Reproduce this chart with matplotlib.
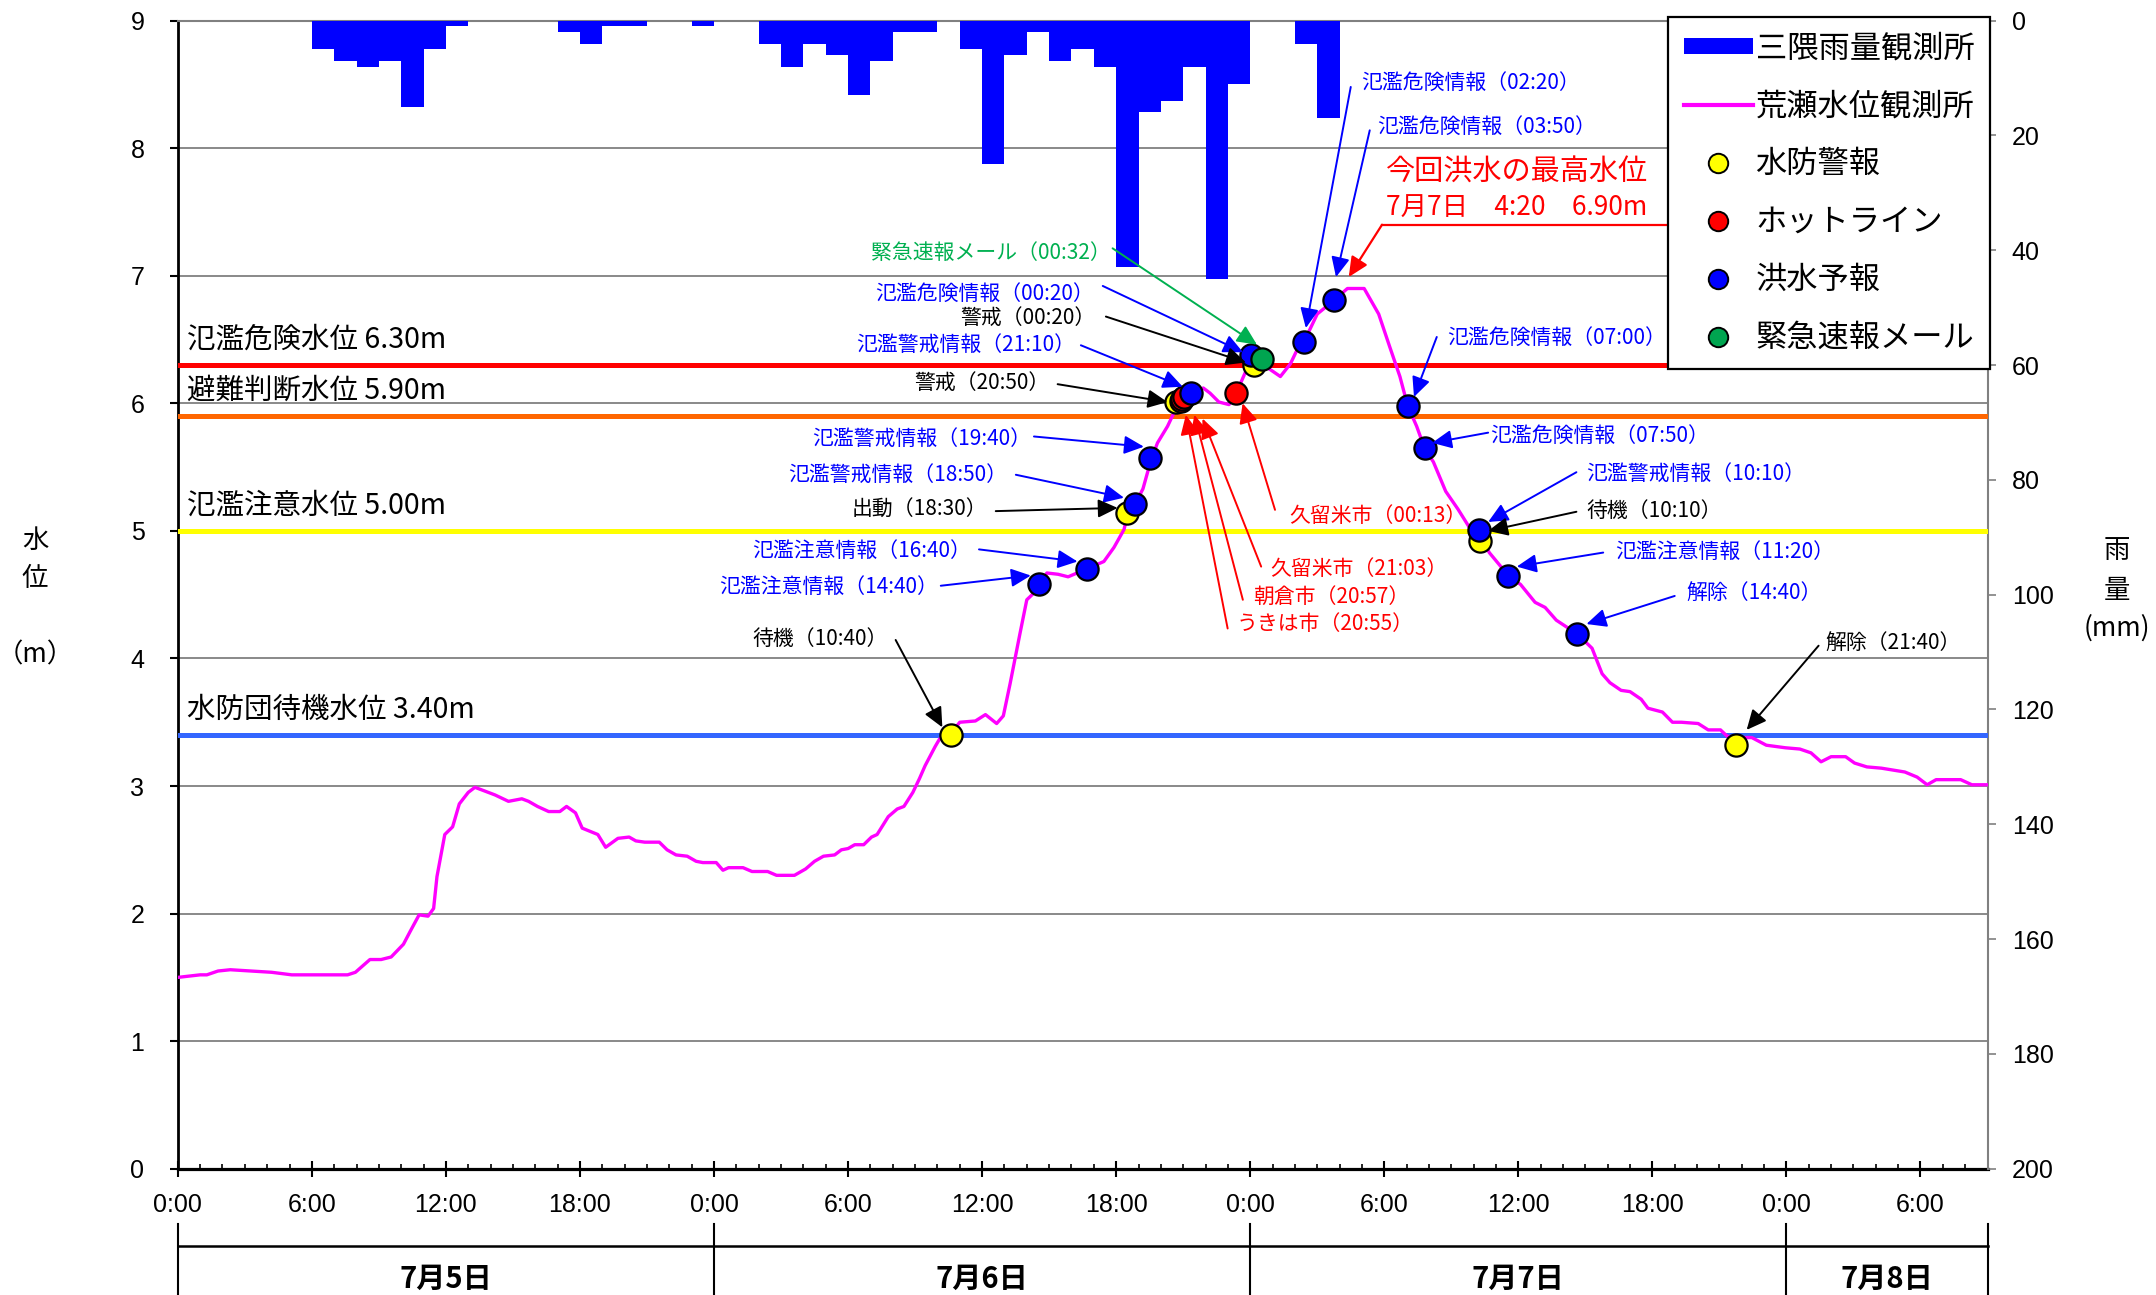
import matplotlib
matplotlib.use('Agg')
import matplotlib.pyplot as plt
import matplotlib.transforms as mtransforms
from matplotlib.lines import Line2D
from matplotlib.patches import Patch
from matplotlib.ticker import MultipleLocator

plt.rcParams['font.family'] = ['Noto Sans CJK JP', 'DejaVu Sans']
NUM_FONT = ['Liberation Sans', 'DejaVu Sans']

# ---------------- data ----------------
rain_hours = [6, 7, 8, 9, 10, 11, 12, 17, 18, 19, 20, 23, 26, 27, 28, 29, 30, 31, 32, 33,
              35, 36, 37, 38, 39, 40, 41, 42, 43, 44, 45, 46, 47, 50, 51]
rain_mm = [5, 7, 8, 7, 15, 5, 1, 2, 4, 1, 1, 1, 4, 8, 4, 6, 13, 7, 2, 2,
           5, 25, 6, 2, 7, 5, 8, 43, 16, 14, 8, 45, 11, 4, 17]

level_hours = [0.0, 0.5, 1.0, 1.3, 1.8, 2.35, 3.3, 4.2, 5.1, 7.6, 7.95, 8.6, 9.1, 9.55, 10.1,
               10.4, 10.8, 11.2, 11.45, 11.6, 11.95, 12.3, 12.6, 13.0, 13.3, 14.2, 14.8, 15.4,
               15.7, 16.1, 16.6, 17.1, 17.4, 17.8, 18.1, 18.8, 19.15, 19.7, 20.2, 20.5, 20.9,
               21.55, 21.9, 22.3, 22.8, 23.2, 23.5, 24.1, 24.4, 24.65, 25.3, 25.7, 26.4, 26.8,
               27.6, 28.1, 28.5, 28.9, 29.4, 29.7, 30.0, 30.3, 30.7, 31.05, 31.3, 31.8, 32.2,
               32.5, 32.9, 33.2, 33.45, 33.9, 34.1, 34.55, 35.0, 35.7, 36.15, 36.65, 36.95,
               37.25, 37.7, 38.0, 38.3, 38.55, 38.9, 39.4, 39.85, 40.65, 41.45, 41.9, 42.35,
               42.5, 42.85, 43.2, 43.55, 43.85, 44.3, 44.65, 44.85, 45.35, 45.9, 46.2, 46.6,
               47.05, 47.35, 47.6, 47.8, 48.15, 48.5, 48.85, 49.35, 49.8, 50.1, 50.4, 51.0,
               51.7, 52.35, 53.1, 53.75, 54.25, 54.7, 55.05, 55.45, 55.8, 56.2, 56.75, 57.3,
               57.8, 58.2, 58.7, 59.55, 60.1, 60.75, 61.2, 61.7, 62.65, 63.3, 63.75, 64.1,
               64.6, 65.0, 65.5, 65.8, 66.45, 66.9, 67.3, 68.05, 68.5, 69.05, 69.35, 70.0,
               70.45, 71.1, 71.95, 72.6, 73.1, 73.55, 74.0, 74.65, 75.05, 75.6, 76.25, 77.3,
               77.85, 78.3, 78.7, 79.8, 80.3, 81.0]
level_m = [1.50, 1.51, 1.52, 1.52, 1.55, 1.56, 1.55, 1.54, 1.52, 1.52, 1.54, 1.64, 1.64, 1.66, 1.76,
           1.86, 1.99, 1.98, 2.04, 2.29, 2.62, 2.68, 2.86, 2.95, 2.99, 2.93, 2.88, 2.90,
           2.88, 2.84, 2.80, 2.80, 2.84, 2.79, 2.67, 2.62, 2.52, 2.59, 2.60, 2.57, 2.56,
           2.56, 2.50, 2.46, 2.45, 2.41, 2.40, 2.40, 2.34, 2.36, 2.36, 2.33, 2.33, 2.30,
           2.30, 2.35, 2.41, 2.45, 2.46, 2.50, 2.51, 2.54, 2.54, 2.60, 2.62, 2.76, 2.82,
           2.84, 2.95, 3.06, 3.16, 3.31, 3.37, 3.40, 3.50, 3.51, 3.56, 3.49, 3.55,
           3.80, 4.20, 4.46, 4.51, 4.58, 4.67, 4.66, 4.64, 4.70, 4.76, 4.87, 5.01,
           5.12, 5.21, 5.33, 5.55, 5.69, 5.82, 5.95, 6.02, 6.08, 6.12, 6.08, 6.01,
           5.99, 6.06, 6.17, 6.25, 6.30, 6.33, 6.27, 6.21, 6.31, 6.42, 6.48, 6.70,
           6.80, 6.90, 6.90, 6.70, 6.44, 6.21, 5.98, 5.82, 5.65, 5.54, 5.31, 5.17,
           5.03, 5.00, 4.83, 4.65, 4.58, 4.44, 4.40, 4.30, 4.19, 4.08, 3.88, 3.81,
           3.75, 3.74, 3.68, 3.61, 3.58, 3.50, 3.50, 3.49, 3.44, 3.44, 3.39, 3.38,
           3.38, 3.32, 3.30, 3.29, 3.26, 3.19, 3.23, 3.23, 3.18, 3.15, 3.14, 3.11,
           3.07, 3.01, 3.05, 3.05, 3.01, 3.01]

threshold_labels = ['氾濫危険水位 6.30m', '避難判断水位 5.90m', '氾濫注意水位 5.00m', '水防団待機水位 3.40m']
threshold_values = [6.30, 5.90, 5.00, 3.40]

warn_hours = [34.6, 42.48, 44.7, 48.19, 58.27, 69.73]          # 水防警報
warn_levels = [3.40, 5.14, 6.01, 6.30, 4.92, 3.32]
hotline_hours = [44.88, 44.95, 45.05, 47.37]                    # ホットライン
hotline_levels = [6.02, 6.03, 6.05, 6.08]
forecast_hours = [38.53, 40.68, 42.84, 43.53, 45.35, 48.03, 50.4, 51.74, 55.04, 55.83,
                  58.22, 59.56, 62.64]                           # 洪水予報
forecast_levels = [4.58, 4.70, 5.21, 5.57, 6.08, 6.38, 6.48, 6.81, 5.98, 5.65, 5.01, 4.65, 4.19]
mail_hours = [48.52]                                             # 緊急速報メール
mail_levels = [6.35]

tick_hours = list(range(0, 79, 6))
tick_labels = ['0:00', '6:00', '12:00', '18:00'] * 3 + ['0:00', '6:00']
date_labels = ['7月5日', '7月6日', '7月7日', '7月8日']
date_bounds = [0, 24, 48, 72, 81]

peak_text = ['今回洪水の最高水位', '7月7日　4:20　6.90m']

# ---------------- styles ----------------
BLUE = '#0000FF'
RED = '#FF0000'
GREEN = '#00B050'
MAGENTA = '#FF00FF'
threshold_colors = ['#FF0000', '#FF6600', '#FFFF00', '#3366FF']

# annotation layout: text, color, text x, text y, ha, arrow start, arrow tip
annotations = [
    ('緊急速報メール（00:32）', GREEN, 41.74, 7.175, 'right', (41.84, 7.215), (48.3, 6.46)),
    ('氾濫危険情報（00:20）', BLUE, 41.0, 6.86, 'right', (41.4, 6.92), (47.68, 6.40)),
    ('警戒（00:20）', 'black', 41.1, 6.67, 'right', (41.54, 6.68), (47.81, 6.32)),
    ('氾濫警戒情報（21:10）', BLUE, 40.15, 6.455, 'right', (40.42, 6.455), (44.98, 6.13)),
    ('警戒（20:50）', 'black', 39.0, 6.16, 'right', (39.38, 6.15), (44.3, 6.01)),
    ('氾濫警戒情報（19:40）', BLUE, 38.18, 5.72, 'right', (38.32, 5.74), (43.24, 5.66)),
    ('氾濫警戒情報（18:50）', BLUE, 37.14, 5.44, 'right', (37.51, 5.44), (42.35, 5.26)),
    ('出動（18:30）', 'black', 36.24, 5.17, 'right', (36.61, 5.155), (42.07, 5.18)),
    ('氾濫注意情報（16:40）', BLUE, 35.52, 4.84, 'right', (35.86, 4.855), (40.27, 4.76)),
    ('氾濫注意情報（14:40）', BLUE, 34.01, 4.56, 'right', (34.15, 4.57), (38.18, 4.65)),
    ('待機（10:40）', 'black', 31.77, 4.15, 'right', (32.13, 4.145), (34.22, 3.46)),
    ('久留米市（00:13）', RED, 49.74, 5.12, 'left', (49.11, 5.165), (47.66, 6.00)),
    ('久留米市（21:03）', RED, 48.89, 4.70, 'left', (48.49, 4.72), (45.87, 5.88)),
    ('朝倉市（20:57）', RED, 48.13, 4.48, 'left', (47.67, 4.46), (45.5, 5.91)),
    ('うきは市（20:55）', RED, 47.41, 4.27, 'left', (46.99, 4.235), (45.12, 5.91)),
    ('氾濫危険情報（02:20）', BLUE, 52.97, 8.51, 'left', (52.5, 8.48), (50.49, 6.59)),
    ('氾濫危険情報（03:50）', BLUE, 53.68, 8.17, 'left', (53.35, 8.14), (51.84, 6.99)),
    ('氾濫危険情報（07:00）', BLUE, 56.82, 6.51, 'left', (56.35, 6.52), (55.33, 6.05)),
    ('氾濫危険情報（07:50）', BLUE, 58.75, 5.745, 'left', (58.65, 5.77), (56.14, 5.69)),
    ('氾濫警戒情報（10:10）', BLUE, 63.04, 5.445, 'left', (62.6, 5.46), (58.65, 5.07)),
    ('待機（10:10）', 'black', 63.04, 5.155, 'left', (62.6, 5.15), (58.65, 5.0)),
    ('氾濫注意情報（11:20）', BLUE, 64.33, 4.835, 'left', (63.8, 4.83), (59.93, 4.72)),
    ('解除（14:40）', BLUE, 67.53, 4.51, 'left', (67.0, 4.49), (63.05, 4.27)),
    ('解除（21:40）', 'black', 73.76, 4.12, 'left', (73.44, 4.10), (70.22, 3.44)),
]

W, H = 2156, 1295
fig = plt.figure(figsize=(W / 100, H / 100), dpi=100)
L, R, T, B = 177.8, 1987.5, 20.6, 1168.75
ax = fig.add_axes([L / W, 1 - B / H, (R - L) / W, (B - T) / H])

# main axis
ax.set_xlim(0, 81)
ax.set_ylim(0, 9)
ax.set_yticks(range(0, 10))
ax.yaxis.grid(True, color='#808080', lw=1.3)
ax.set_axisbelow(True)
ax.set_xticks(tick_hours)
ax.set_xticklabels(tick_labels)
ax.xaxis.set_minor_locator(MultipleLocator(1))
ax.tick_params(axis='x', which='major', direction='inout', length=12, width=1.5, pad=11.5, labelsize=18)
ax.tick_params(axis='x', which='minor', direction='in', length=3.5, width=1.2)
ax.tick_params(axis='y', direction='out', length=6, width=1.5, pad=18, labelsize=18)
for lab in ax.get_xticklabels() + ax.get_yticklabels():
    lab.set_family(NUM_FONT)
ax.spines['left'].set_linewidth(2)
ax.spines['bottom'].set_linewidth(2.3)
ax.spines['top'].set_color('#808080')
ax.spines['top'].set_linewidth(1.5)
ax.spines['right'].set_visible(False)

# rain axis
axr = ax.twinx()
axr.bar([h + 0.5 for h in rain_hours], rain_mm, width=1.0, color=BLUE, edgecolor='none', zorder=2)
axr.set_ylim(200, 0)
axr.set_yticks(range(0, 201, 20))
axr.tick_params(axis='y', direction='out', length=6, width=1.2, color='#808080', pad=11.5, labelsize=18)
for lab in axr.get_yticklabels():
    lab.set_family(NUM_FONT)
for s in ['left', 'bottom', 'top']:
    axr.spines[s].set_visible(False)
axr.spines['right'].set_color('#808080')
axr.spines['right'].set_linewidth(1.5)

# overlay axis for level data
axo = ax.twinx()
axo.set_ylim(0, 9)
axo.yaxis.set_visible(False)
for s in axo.spines.values():
    s.set_visible(False)

for lab, val, col in zip(threshold_labels, threshold_values, threshold_colors):
    axo.axhline(val, color=col, lw=3.6, zorder=2)
    axo.text(0.4, val + 0.08, lab, fontsize=20.5, color='black', ha='left', va='bottom', zorder=4)

axo.plot(level_hours, level_m, color=MAGENTA, lw=2.4, zorder=3, solid_joinstyle='round')

mk = dict(ls='none', marker='o', ms=16, mec='black', mew=1.6, zorder=6)
axo.plot(warn_hours, warn_levels, mfc='#FFFF00', **mk)
axo.plot(hotline_hours, hotline_levels, mfc=RED, **mk)
axo.plot(forecast_hours, forecast_levels, mfc=BLUE, **mk)
axo.plot(mail_hours, mail_levels, mfc='#00A550', **mk)

for text, col, tx, ty, ha, start, tip in annotations:
    axo.text(tx, ty, text, color=col, fontsize=15, ha=ha, va='center', zorder=7)
    axo.annotate('', xy=tip, xytext=start,
                 arrowprops=dict(arrowstyle='-|>,head_length=0.6,head_width=0.28', color=col,
                                 lw=1.4, shrinkA=0, shrinkB=0, mutation_scale=20), zorder=7)

# peak callout
axo.text(54.07, 7.81, peak_text[0], color=RED, fontsize=21, ha='left', va='center', zorder=7)
axo.text(54.07, 7.53, peak_text[1], color=RED, fontsize=19, ha='left', va='center', zorder=7)
axo.plot([53.9, 68.0], [7.40, 7.40], color=RED, lw=1.6, zorder=7)
axo.annotate('', xy=(52.41, 6.99), xytext=(53.9, 7.40),
             arrowprops=dict(arrowstyle='-|>,head_length=0.6,head_width=0.28', color=RED,
                             lw=1.6, shrinkA=0, shrinkB=0, mutation_scale=20), zorder=7)

# legend
handles = [
    Patch(facecolor=BLUE, edgecolor='none', label='三隈雨量観測所'),
    Line2D([], [], color=MAGENTA, lw=3, label='荒瀬水位観測所'),
    Line2D([], [], ls='none', marker='o', ms=14, mfc='#FFFF00', mec='black', mew=1.4, label='水防警報'),
    Line2D([], [], ls='none', marker='o', ms=14, mfc=RED, mec='black', mew=1.4, label='ホットライン'),
    Line2D([], [], ls='none', marker='o', ms=14, mfc=BLUE, mec='black', mew=1.4, label='洪水予報'),
    Line2D([], [], ls='none', marker='o', ms=14, mfc='#00A550', mec='black', mew=1.4, label='緊急速報メール'),
]
leg = axo.legend(handles=handles, loc='upper right', bbox_to_anchor=(1990 / W, 1 - 16.5 / H),
                 bbox_transform=fig.transFigure, borderaxespad=0, fontsize=22.5, frameon=True,
                 fancybox=False, framealpha=1, edgecolor='black', labelspacing=0.83,
                 handlelength=2.2, handletextpad=0.1, borderpad=0.5, handleheight=0.45)
leg.get_frame().set_linewidth(1.6)
leg.set_zorder(10)

# date row below axis
trans = mtransforms.blended_transform_factory(ax.transData, fig.transFigure)
ax.plot([date_bounds[0], date_bounds[-1]], [1 - 1246 / H] * 2, color='black', lw=1.8,
        transform=trans, clip_on=False)
for b in date_bounds:
    ax.plot([b, b], [1 - 1224 / H, 0], color='black', lw=1.5, transform=trans, clip_on=False)
for i, lab in enumerate(date_labels):
    xc = (date_bounds[i] + date_bounds[i + 1]) / 2
    ax.text(xc, 1 - 1279 / H, lab, transform=trans, ha='center', va='center',
            fontsize=21, fontweight='bold')

# axis titles
for txt, y in [('水', 540), ('位', 578), ('（m）', 655)]:
    fig.text(35 / W, 1 - y / H, txt, ha='center', va='center', fontsize=19)
for txt, y in [('雨', 550), ('量', 590), ('(mm)', 628)]:
    fig.text(2117 / W, 1 - y / H, txt, ha='center', va='center', fontsize=19)

fig.savefig('out.png', dpi=100)
